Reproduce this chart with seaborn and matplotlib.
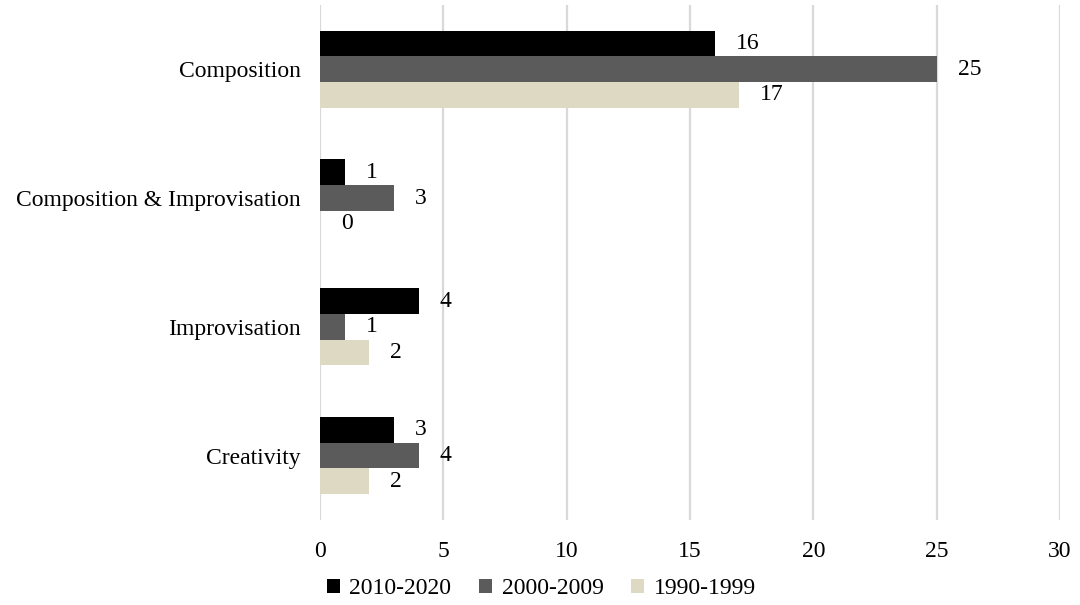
import matplotlib
matplotlib.use("Agg")
import matplotlib.pyplot as plt
import seaborn as sns
import pandas as pd
from matplotlib.patches import Patch

categories = ["Composition", "Composition & Improvisation", "Improvisation", "Creativity"]
series = ["2010-2020", "2000-2009", "1990-1999"]
v_2010_2020 = [16, 1, 4, 3]
v_2000_2009 = [25, 3, 1, 4]
v_1990_1999 = [17, 0, 2, 2]
colors = ["#000000", "#5B5B5B", "#DDD9C3"]
x_ticks = [0, 5, 10, 15, 20, 25, 30]

rows = []
for s, vals in zip(series, [v_2010_2020, v_2000_2009, v_1990_1999]):
    for c, v in zip(categories, vals):
        rows.append({"Category": c, "Series": s, "Value": v})
df = pd.DataFrame(rows)

sns.set_theme(style="white")
plt.rcParams["font.family"] = ["Liberation Serif", "DejaVu Serif"]
plt.rcParams["text.color"] = "#000000"
plt.rcParams["xtick.color"] = "#000000"
plt.rcParams["ytick.color"] = "#000000"

FS = 17

fig = plt.figure(figsize=(10.8, 6.05), dpi=100)
ax = fig.add_axes([0.2963, 0.1405, 0.6852, 0.8515])

sns.barplot(data=df, y="Category", x="Value", hue="Series", order=categories,
            hue_order=series, palette=colors, orient="h", width=0.6,
            saturation=1, ax=ax, legend=False, zorder=3, linewidth=0,
            edgecolor="none")

for cont in ax.containers:
    ax.bar_label(cont, labels=[f"{int(v)}" for v in cont.datavalues],
                 padding=15, fontsize=FS, color="#000000")

ax.set_xlim(0, 30)
ax.set_ylim(3.5, -0.5)
ax.set_xticks(x_ticks)
ax.set_xticklabels([str(t) for t in x_ticks], fontsize=FS)
ax.tick_params(axis="y", labelsize=FS, length=0, pad=14, labelcolor="#000000")
ax.tick_params(axis="x", length=0, pad=15, labelcolor="#000000")
ax.set_xlabel("")
ax.set_ylabel("")
ax.xaxis.grid(True, color="#D9D9D9", linewidth=1.6, zorder=0)
ax.yaxis.grid(False)
for sp in ax.spines.values():
    sp.set_visible(False)

handles = [Patch(facecolor=c, edgecolor="none", label=s) for c, s in zip(colors, series)]
fig.legend(handles=handles, loc="center", bbox_to_anchor=(0.501, 0.027), ncol=3,
           frameon=False, fontsize=FS, handlelength=0.55, handleheight=0.55,
           handletextpad=0.42, columnspacing=1.15, borderpad=0.1)

fig.savefig("out.png", dpi=100)
